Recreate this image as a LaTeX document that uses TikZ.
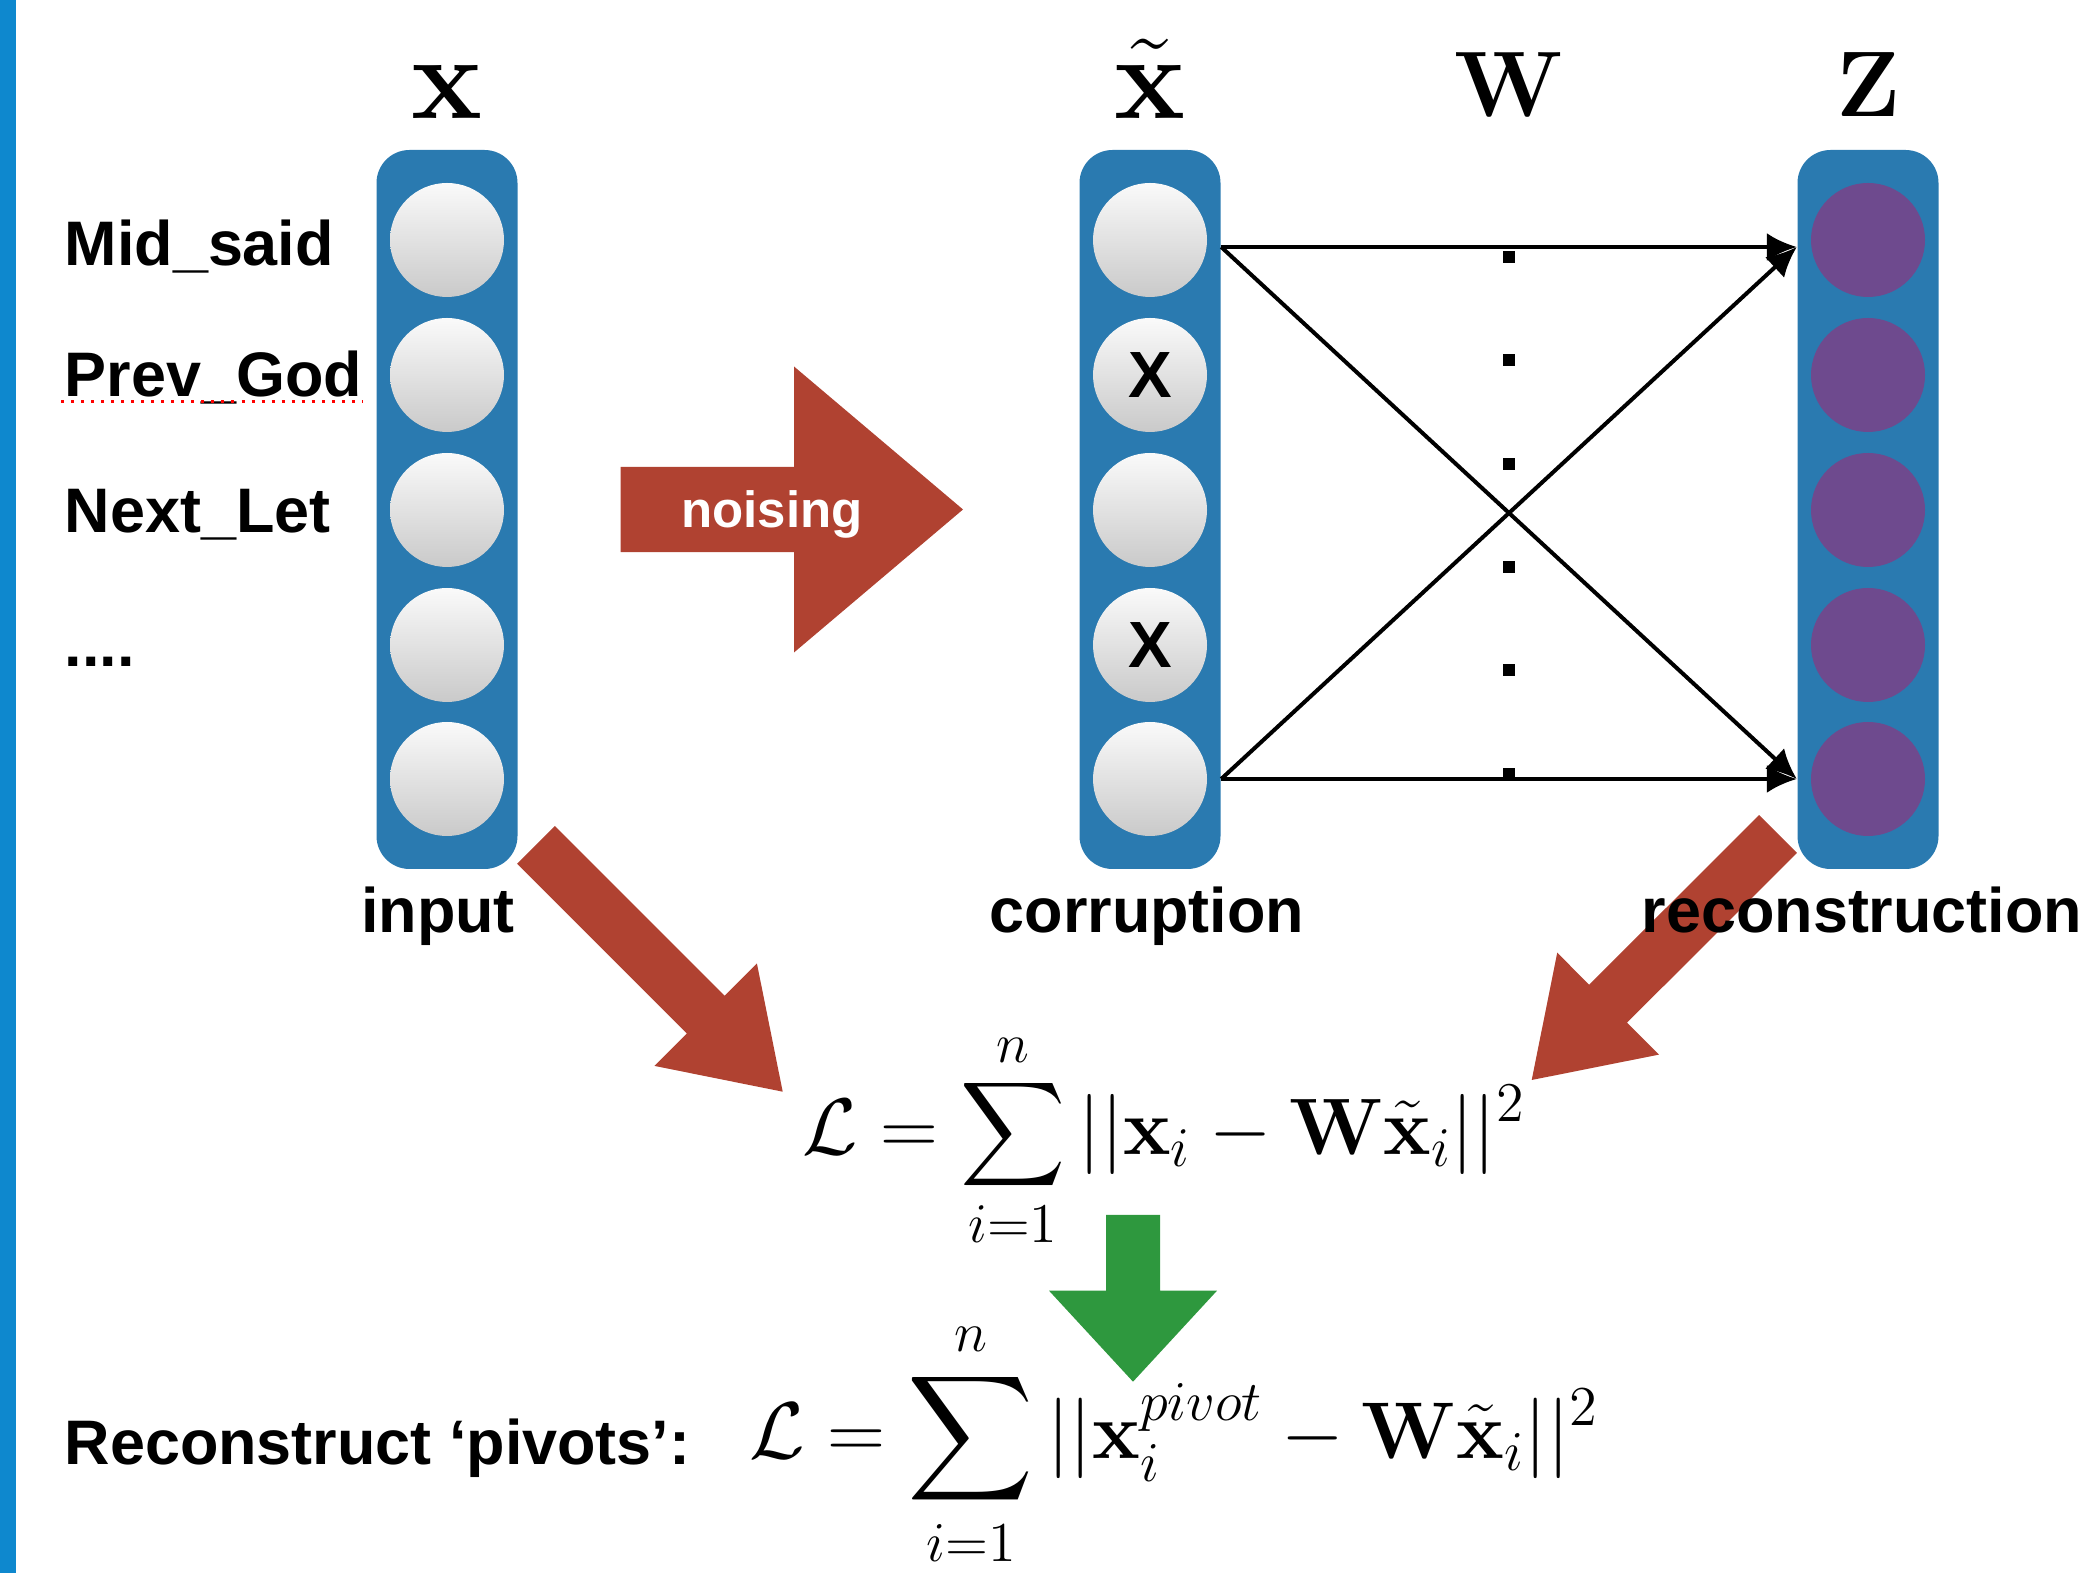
\RequirePackage{fix-cm}
\documentclass[tikz,border=0pt]{standalone}
\usepackage{amsmath}
\usepackage[no-math]{fontspec}
\usetikzlibrary{positioning, calc, arrows.meta}
\newfontfamily\labelfont{Liberation Sans}
\definecolor{colblue}{RGB}{42,122,176}
\definecolor{edgeblue}{RGB}{14,136,206}
\definecolor{zpurple}{RGB}{110,74,142}
\definecolor{noisered}{RGB}{176,66,49}
\definecolor{pivotgreen}{RGB}{46,152,62}

% fat block arrow: [colour]{tail}{tip}{shaft half width}{head half width}{head length}
\newcommand{\fatarrow}[6][]{%
  \coordinate (fa-base) at ($(#3)!#6!(#2)$);
  \fill[#1] ($(#2)!#4!90:(#3)$) -- ($(fa-base)!#4!-90:(#2)$)
    -- ($(fa-base)!#5!-90:(#2)$) -- (#3)
    -- ($(fa-base)!#5!90:(#2)$) -- ($(fa-base)!#4!90:(#2)$)
    -- ($(#2)!#4!-90:(#3)$) -- cycle;}

\begin{document}
\begin{tikzpicture}[
    x=0.1mm, y=-0.1mm,
    column/.style={rectangle, rounded corners=3.3mm, fill=colblue, minimum width=14.1mm, minimum height=71.9mm, inner sep=0pt},
    unit/.style={circle, minimum size=11.4mm, inner sep=0pt, top color=gray!4, bottom color=gray!42, font=\labelfont\bfseries\fontsize{18.6}{20}\selectfont},
    hidden/.style={circle, minimum size=11.4mm, inner sep=0pt, fill=zpurple},
    word/.style={anchor=base west, inner sep=0pt, font=\labelfont\bfseries\fontsize{17.9}{20}\selectfont},
    caption/.style={anchor=base, inner sep=0pt, font=\labelfont\bfseries\fontsize{17.9}{20}\selectfont},
    vec/.style={anchor=base, inner sep=0pt, font=\fontsize{34}{38}\selectfont},
    vecsmall/.style={anchor=base, inner sep=0pt, font=\fontsize{26.5}{30}\selectfont},
    loss/.style={anchor=west, inner sep=0pt, font=\fontsize{22.8}{26}\selectfont},
    link/.style={line width=0.4mm, -{Latex[length=3mm, width=2.8mm]}}
]
\useasboundingbox (0,0) rectangle (2079,1573);
\fill[edgeblue] (0,0) rectangle (16,1573);

\node (colA) [column] at (447,509.5) {};
\node (colB) [column] at (1150,509.5) {};
\node (colC) [column] at (1868,509.5) {};

\foreach \i/\y/\t in {1/240/{},2/375/X,3/510/{},4/645/X,5/779/{}} {
  \node (a\i) [unit] at (447,\y) {};
  \node (b\i) [unit] at (1150,\y) {\t};
  \node (c\i) [hidden] at (1868,\y) {};
}

\coordinate (top-out) at ($(colB.east |- b1)+(0,7)$);
\coordinate (top-in) at ($(colC.west |- c1)+(0,7)$);
\draw [link] (top-out) -- (top-in);
\draw [link] (top-out) -- (colC.west |- c5);
\draw [link] (colB.east |- b5) -- (top-in);
\draw [link] (colB.east |- b5) -- (colC.west |- c5);

\foreach \y in {257,360,464,567,670,774}
  \node [fill, minimum size=1.2mm, inner sep=0pt] at (1509,\y) {};

\node (xlab) [vec] at (447,119) {$\mathbf{x}$};
\node (xtlab) [vec] at (1150,119) {$\tilde{\mathbf{x}}$};
\node (wlab) [vecsmall] at (1509,117) {$\mathbf{W}$};
\node (zlab) [vecsmall] at (1868,117) {$\mathbf{Z}$};

\node (w1) [word] at (64,265.6) {Mid\_said};
\node (w2) [word] at (64,397) {Prev\_God};
\node (w3) [word] at (64,532.6) {Next\_Let};
\node (w4) [word] at (64,666.5) {....};
\draw [red, dotted, line width=0.3mm] ($(w2.base west)+(-3,5)$) -- ($(w2.base east)+(0,5)$);

% block arrows
\coordinate (noise-s) at (620.7,509.5);
\coordinate (noise-e) at (963,509.5);
\coordinate (inloss-s) at (536,845);
\coordinate (inloss-e) at (782.7,1091.7);
\coordinate (recloss-s) at (1778,834);
\coordinate (recloss-e) at (1531.7,1080);
\coordinate (pivot-s) at (1133,1215);
\coordinate (pivot-e) at (1133,1381.7);
\fatarrow[noisered]{noise-s}{noise-e}{4.27mm}{14.3mm}{16.9mm}
\fatarrow[noisered]{inloss-s}{inloss-e}{2.67mm}{7.25mm}{10.9mm}
\fatarrow[noisered]{recloss-s}{recloss-e}{2.68mm}{7.2mm}{10.8mm}
\fatarrow[pivotgreen]{pivot-s}{pivot-e}{2.7mm}{8.4mm}{9.1mm}

\node (noiselab) [caption, text=white, font=\labelfont\bfseries\fontsize{14.5}{16}\selectfont] at (772,528) {noising};

\node (inlab) [caption] at (438,933) {input};
\node (corlab) [caption] at (1147,933) {corruption};
\node (reclab) [word] at (1641,933) {reconstruction};

\node (loss1) [loss] at (802,1140) {$\displaystyle \mathcal{L} = \sum_{i=1}^{n} ||\mathbf{x}_i - \mathbf{W}\tilde{\mathbf{x}}_i||^2$};
\node (pivlab) [word] at (64,1465) {Reconstruct ‘pivots’:};
\node (loss2) [loss, font=\fontsize{22.9}{26}\selectfont] at (749,1444) {$\displaystyle \mathcal{L} = \sum_{i=1}^{n} ||\mathbf{x}_i^{pivot} - \mathbf{W}\tilde{\mathbf{x}}_i||^2$};

\end{tikzpicture}
\end{document}
